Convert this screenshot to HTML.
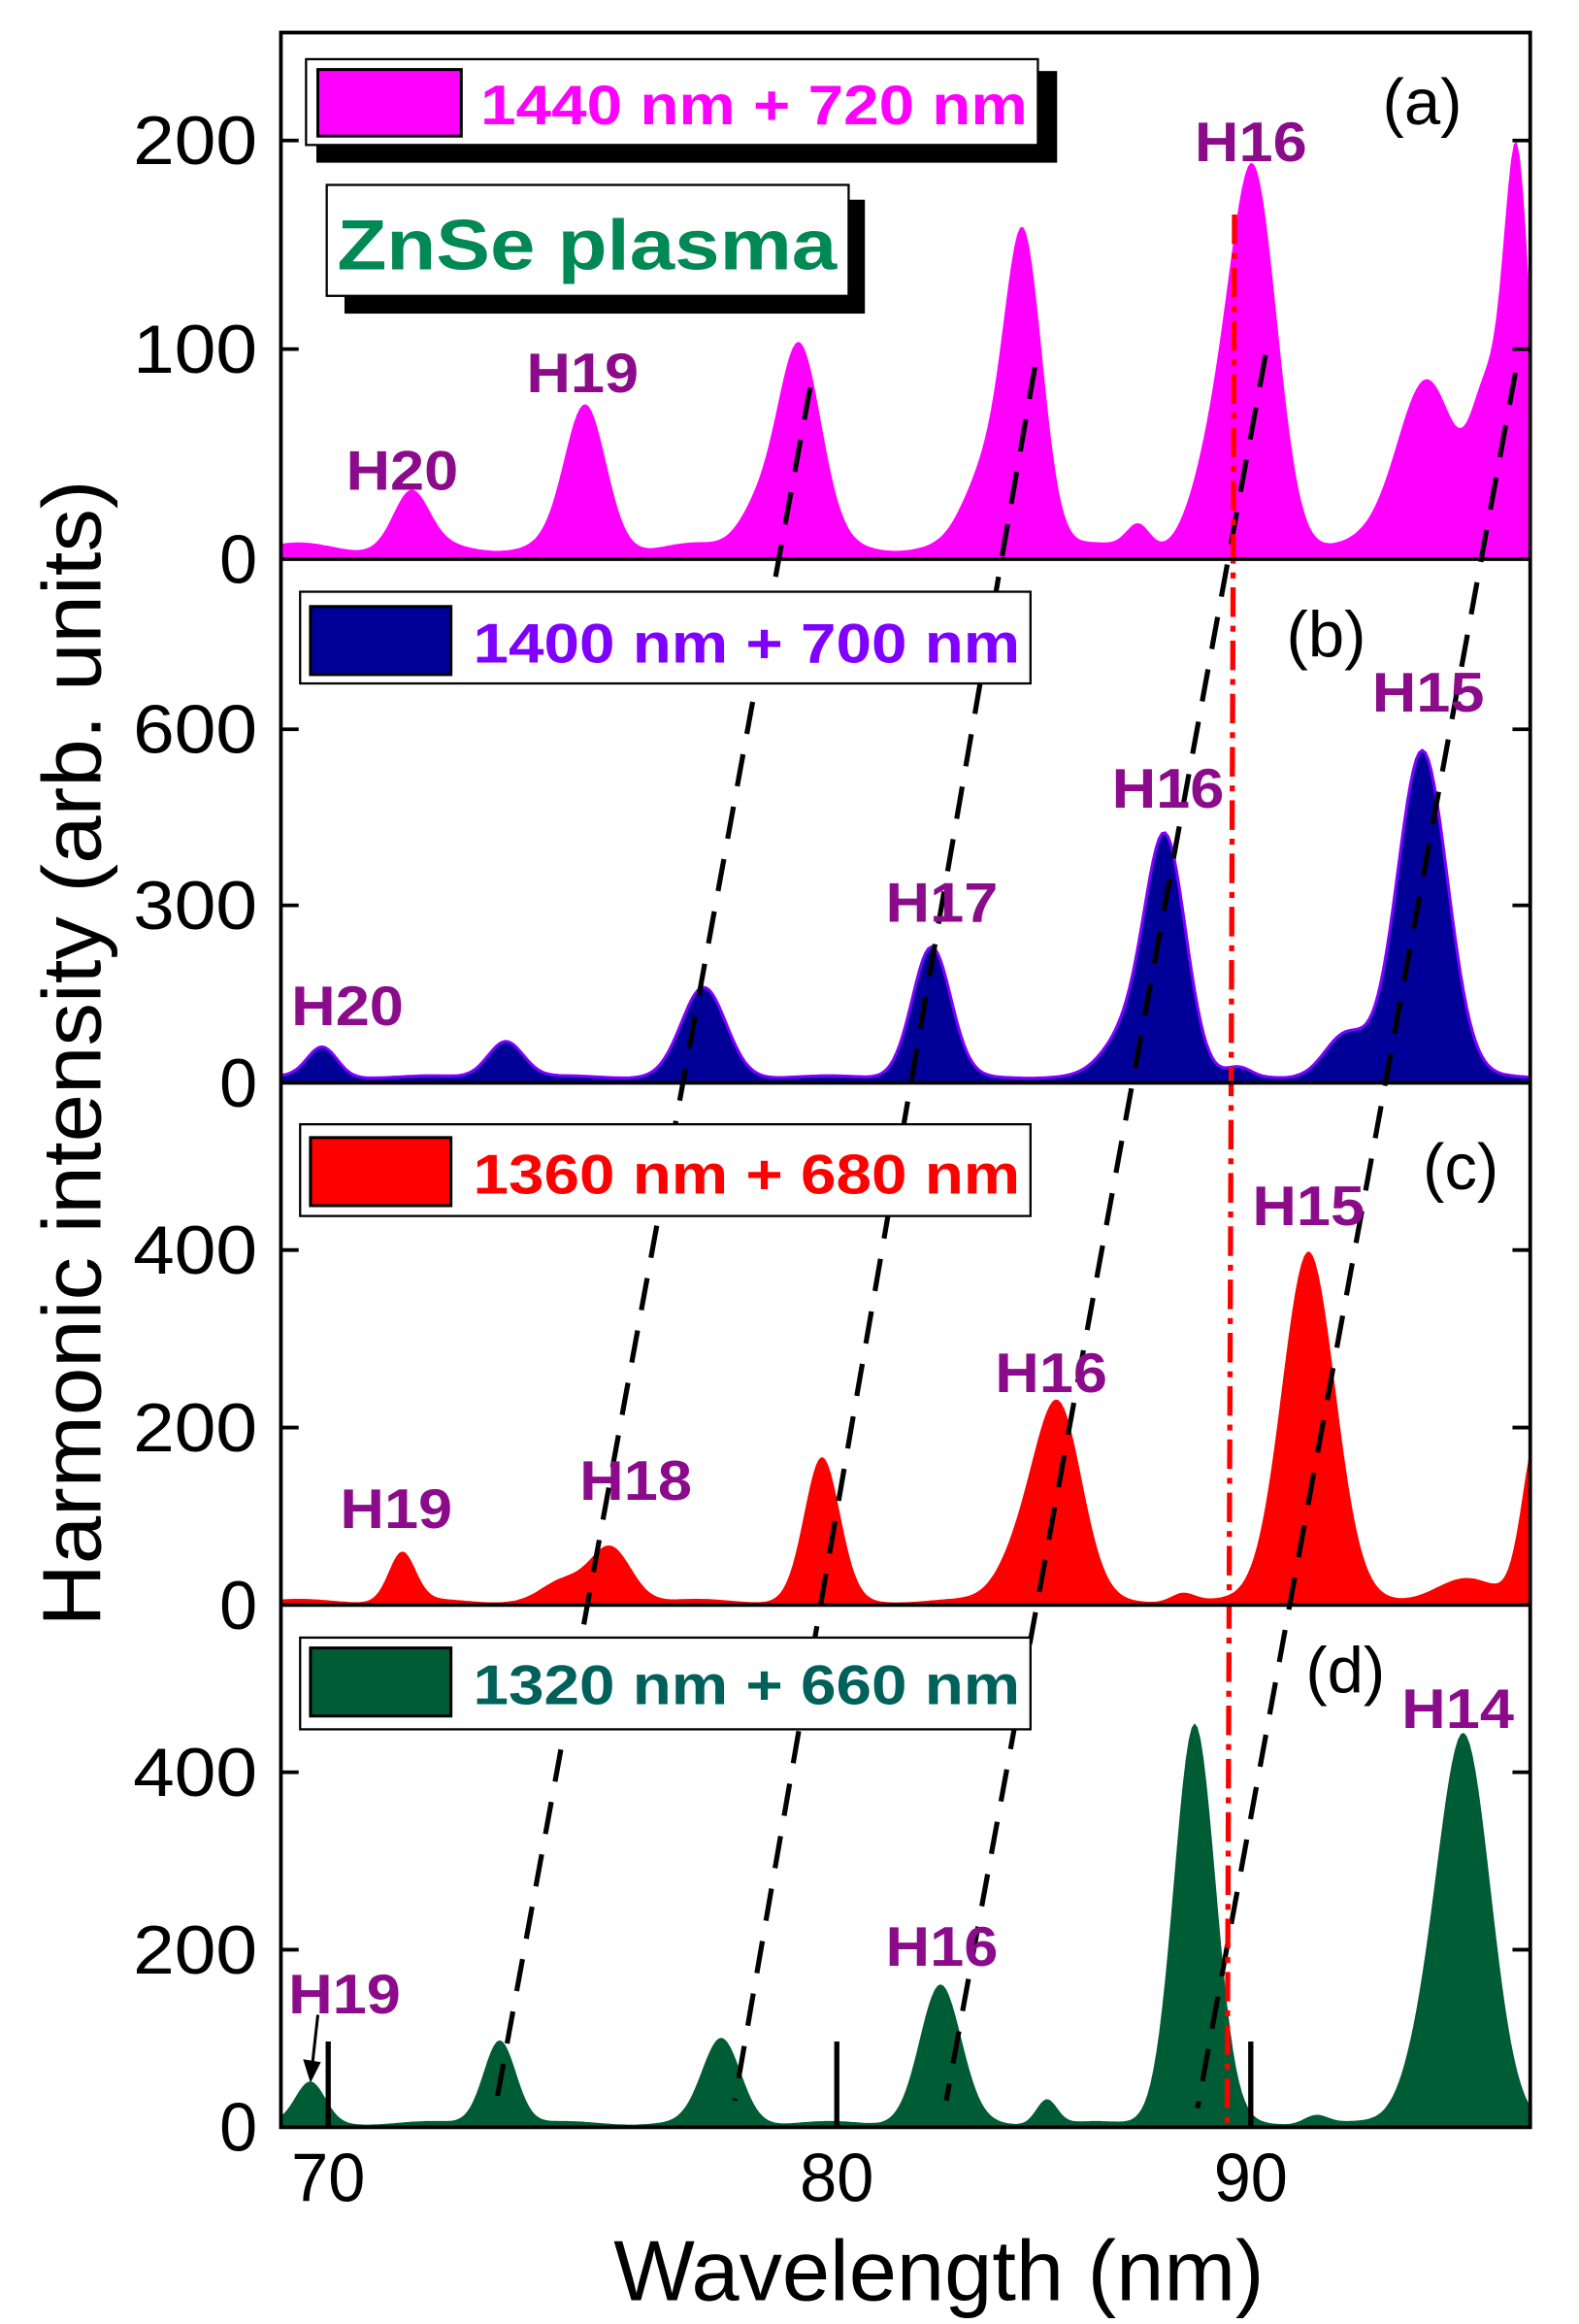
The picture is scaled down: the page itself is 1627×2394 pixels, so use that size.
<!DOCTYPE html>
<html><head><meta charset="utf-8">
<style>html,body{margin:0;padding:0;background:#fff}svg{display:block}</style>
</head><body>
<svg id="s" xmlns="http://www.w3.org/2000/svg" width="1627" height="2394" viewBox="0 0 1068 1571" preserveAspectRatio="none" font-family="Liberation Sans, sans-serif">
<rect width="1068" height="1571" fill="#fff"/>
<g id="areas"></g>
<g stroke="#000" stroke-width="3.4" stroke-dasharray="22,14" fill="none">
<line x1="548" y1="262" x2="335" y2="1425"/>
<line x1="700" y1="248" x2="497" y2="1420"/>
<line x1="856" y1="240" x2="640" y2="1420"/>
<line x1="1025" y1="252" x2="810" y2="1425"/>
</g>
<line x1="835" y1="145" x2="830" y2="1438" stroke="#ff0000" stroke-width="3.5" stroke-dasharray="20,6,4,6"/>
<g stroke="#000" stroke-width="2.5" fill="none">
<rect x="190" y="22" width="845" height="1416"/>
<line x1="190" y1="378" x2="1035" y2="378"/>
<line x1="190" y1="732" x2="1035" y2="732"/>
<line x1="190" y1="1085" x2="1035" y2="1085"/>
</g>
<g stroke="#000" stroke-width="2.5" id="ticks"></g>
<g stroke="#000" stroke-width="3.5">
<line x1="222" y1="1438" x2="222" y2="1380"/>
<line x1="566" y1="1438" x2="566" y2="1380"/>
<line x1="846" y1="1438" x2="846" y2="1380"/>
</g>
<g font-size="46" text-anchor="end" fill="#000">
<text x="174" y="111" textLength="84" lengthAdjust="spacingAndGlyphs">200</text><text x="174" y="252" textLength="84" lengthAdjust="spacingAndGlyphs">100</text><text x="174" y="394">0</text>
<text x="174" y="509" textLength="84" lengthAdjust="spacingAndGlyphs">600</text><text x="174" y="628" textLength="84" lengthAdjust="spacingAndGlyphs">300</text><text x="174" y="748">0</text>
<text x="174" y="861" textLength="84" lengthAdjust="spacingAndGlyphs">400</text><text x="174" y="981" textLength="84" lengthAdjust="spacingAndGlyphs">200</text><text x="174" y="1101">0</text>
<text x="174" y="1214" textLength="84" lengthAdjust="spacingAndGlyphs">400</text><text x="174" y="1334" textLength="84" lengthAdjust="spacingAndGlyphs">200</text><text x="174" y="1454">0</text>
</g>
<g font-size="46" text-anchor="middle" fill="#000">
<text x="222" y="1488" textLength="50" lengthAdjust="spacingAndGlyphs">70</text><text x="566" y="1488" textLength="50" lengthAdjust="spacingAndGlyphs">80</text><text x="846" y="1488" textLength="50" lengthAdjust="spacingAndGlyphs">90</text>
<text x="635" y="1555" font-size="58" textLength="440" lengthAdjust="spacingAndGlyphs">Wavelength (nm)</text>
<text transform="translate(68,712) rotate(-90)" font-size="56" textLength="775" lengthAdjust="spacingAndGlyphs">Harmonic intensity (arb. units)</text>
</g>
<rect x="214" y="48" width="501" height="62" fill="#000"/>
<rect x="207" y="40" width="495" height="58" fill="#fff" stroke="#000" stroke-width="1.5"/>
<rect x="215" y="47" width="97" height="45" fill="#ff00ff" stroke="#000" stroke-width="2"/>
<text x="325" y="84" font-size="38" font-weight="bold" fill="#ff00ff" textLength="370" lengthAdjust="spacingAndGlyphs">1440 nm + 720 nm</text>
<rect x="233" y="135" width="352" height="77" fill="#000"/>
<rect x="221" y="125" width="353" height="75" fill="#fff" stroke="#000" stroke-width="1.5"/>
<text x="228" y="182" font-size="48" font-weight="bold" fill="#008855" textLength="338" lengthAdjust="spacingAndGlyphs">ZnSe plasma</text>

<rect x="203" y="400" width="494" height="62" fill="#fff" stroke="#000" stroke-width="1.5"/>
<rect x="210" y="410" width="95" height="46" fill="#000099" stroke="#000" stroke-width="2"/>
<text x="320" y="448" font-size="38" font-weight="bold" fill="#8000ff" textLength="370" lengthAdjust="spacingAndGlyphs">1400 nm + 700 nm</text>

<rect x="203" y="760" width="494" height="62" fill="#fff" stroke="#000" stroke-width="1.5"/>
<rect x="210" y="769" width="95" height="46" fill="#ff0000" stroke="#000" stroke-width="2"/>
<text x="320" y="807" font-size="38" font-weight="bold" fill="#ff0000" textLength="370" lengthAdjust="spacingAndGlyphs">1360 nm + 680 nm</text>

<rect x="203" y="1107" width="494" height="62" fill="#fff" stroke="#000" stroke-width="1.5"/>
<rect x="210" y="1114" width="95" height="46" fill="#005c35" stroke="#000" stroke-width="2"/>
<text x="320" y="1152" font-size="38" font-weight="bold" fill="#00605a" textLength="370" lengthAdjust="spacingAndGlyphs">1320 nm + 660 nm</text>

<g font-size="44" fill="#000" text-anchor="middle">
<text x="962" y="84">(a)</text><text x="897" y="444">(b)</text><text x="988" y="804">(c)</text><text x="910" y="1144">(d)</text>
</g>
<g font-size="38" font-weight="bold" fill="#8b0b8b" text-anchor="middle">
<text x="272" y="331" textLength="76" lengthAdjust="spacingAndGlyphs">H20</text>
<text x="394" y="265" textLength="76" lengthAdjust="spacingAndGlyphs">H19</text>
<text x="846" y="109" textLength="76" lengthAdjust="spacingAndGlyphs">H16</text>
<text x="235" y="693" textLength="76" lengthAdjust="spacingAndGlyphs">H20</text>
<text x="637" y="623" textLength="76" lengthAdjust="spacingAndGlyphs">H17</text>
<text x="790" y="546" textLength="76" lengthAdjust="spacingAndGlyphs">H16</text>
<text x="966" y="481" textLength="76" lengthAdjust="spacingAndGlyphs">H15</text>
<text x="268" y="1033" textLength="76" lengthAdjust="spacingAndGlyphs">H19</text>
<text x="430" y="1014" textLength="76" lengthAdjust="spacingAndGlyphs">H18</text>
<text x="711" y="941" textLength="76" lengthAdjust="spacingAndGlyphs">H16</text>
<text x="885" y="828" textLength="76" lengthAdjust="spacingAndGlyphs">H15</text>
<text x="233" y="1361" textLength="76" lengthAdjust="spacingAndGlyphs">H19</text>
<text x="637" y="1329" textLength="76" lengthAdjust="spacingAndGlyphs">H16</text>
<text x="986" y="1168" textLength="76" lengthAdjust="spacingAndGlyphs">H14</text>
</g>
<line x1="215" y1="1362" x2="211" y2="1398" stroke="#000" stroke-width="2"/>
<polygon points="205,1392 217,1394 210,1408" fill="#000"/>
</svg>
<script>
(function(){
var NS="http://www.w3.org/2000/svg";
var panels=[
 {b:378,top:22,k:1.415,fill:"#ff00ff",stroke:"none",base:6,pk:[[278,26,12],[396,67,14],[540,97,15],[692,150,13],[848,176,16],[965,82,20],[1005,60,10],[1026,185,9],[665,30,14],[770,12,8],[820,35,15],[510,15,12]]},
 {b:732,top:378,k:0.399,fill:"#000099",stroke:"#8000ff",base:10,pk:[[218,50,10],[342,62,12],[476,150,15],[630,220,13],[788,405,14],[962,555,17],[910,70,14],[760,60,15],[838,15,8]]},
 {b:1085,top:732,k:0.6,fill:"#ff0000",stroke:"none",base:5,pk:[[272,55,9],[413,62,14],[556,160,12],[716,215,16],[885,395,18],[1040,190,10],[380,20,14],[690,50,15],[990,25,20],[800,10,8]]},
 {b:1438,top:1085,k:0.6,fill:"#005c35",stroke:"none",base:5,pk:[[210,45,10],[338,95,11],[488,95,13],[636,155,14],[808,450,14],[708,28,7],[990,435,18],[960,40,14],[890,10,8]]}
];
var g=document.getElementById("areas");
panels.forEach(function(p){
 var d="M190,"+p.b;
 for(var x=190;x<=1035;x+=2){
  var v=p.base+2*Math.sin(x*0.07);
  p.pk.forEach(function(k){v+=k[1]*Math.exp(-Math.pow((x-k[0])/k[2],2)/2);});
  var y=p.b-Math.min(v*p.k,p.b-p.top-2);
  d+=" L"+x+","+y.toFixed(1);
 }
 d+=" L1035,"+p.b+" Z";
 var e=document.createElementNS(NS,"path");e.setAttribute("d",d);e.setAttribute("fill",p.fill);
 if(p.stroke!="none"){e.setAttribute("stroke",p.stroke);e.setAttribute("stroke-width","2");}
 g.appendChild(e);
});
var t=document.getElementById("ticks");
[95,236,493,612,845,965,1198,1318].forEach(function(y){
 [[190,202],[1023,1035]].forEach(function(a){var l=document.createElementNS(NS,"line");l.setAttribute("x1",a[0]);l.setAttribute("x2",a[1]);l.setAttribute("y1",y);l.setAttribute("y2",y);t.appendChild(l);});
});
})();
</script>
</body></html>
